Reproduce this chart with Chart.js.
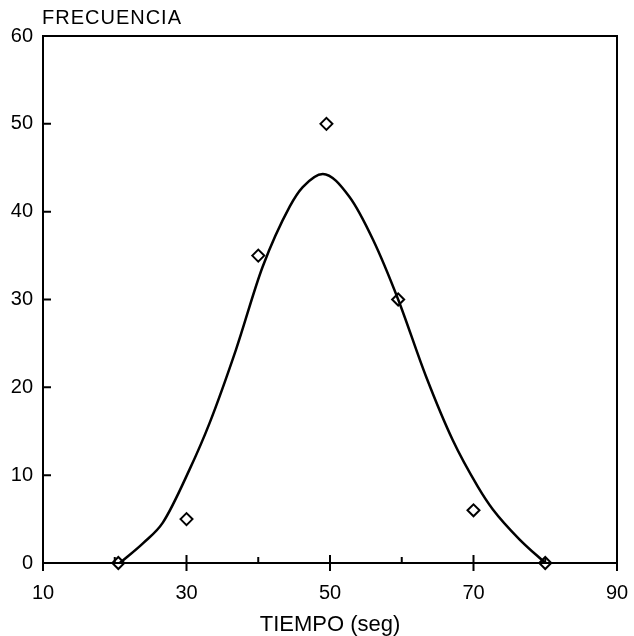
<!DOCTYPE html>
<html>
<head>
<meta charset="utf-8">
<script src="https://cdn.jsdelivr.net/npm/chart.js@4.4.1/dist/chart.umd.min.js"></script>
<style>
  html, body { margin: 0; padding: 0; background: #fff; }
  #wrap { width: 634px; height: 636px; position: relative; }
</style>
</head>
<body>
<div id="wrap"><canvas id="c" width="634" height="636"></canvas></div>
<script>
// Observed frequencies per time class
const tiempo = [20.5, 30, 40, 49.5, 59.5, 70, 80];
const frecuencia = [0, 5, 35, 50, 30, 6, 0];

// Fitted curve, sampled along its trace
const curvaX = [20.7, 24.0, 26.7, 30.4, 33.2, 36.9, 40.6, 44.4, 46.2, 49.0, 52.7, 56.0, 59.5, 63.4, 67.1, 70.6, 72.7, 76.4, 80.0];
const curvaY = [0, 2.3, 4.6, 10.6, 15.9, 24.3, 33.7, 40.6, 42.8, 44.3, 41.7, 36.8, 30.0, 21.2, 14.0, 8.7, 6.1, 2.7, 0];

// Axis ticks
const xLabelTicks = [10, 30, 50, 70, 90];
const xMinorTicks = [20, 40, 60, 80];
const yTicks = [10, 20, 30, 40, 50];

const FONT = "'Liberation Sans', Arial, Helvetica, sans-serif";

// Frame, inward tick marks and the vertical-axis caption
const framePlugin = {
  id: 'frame',
  afterDatasetsDraw(chart) {
    const { ctx, chartArea: a, scales: { x, y } } = chart;
    ctx.save();
    ctx.strokeStyle = '#000';
    ctx.lineWidth = 2;
    ctx.strokeRect(a.left, a.top, a.right - a.left, a.bottom - a.top);
    ctx.beginPath();
    xLabelTicks.forEach(v => {
      const px = x.getPixelForValue(v);
      ctx.moveTo(px, a.bottom - 8);
      ctx.lineTo(px, a.bottom + 8);
    });
    xMinorTicks.forEach(v => {
      const px = x.getPixelForValue(v);
      ctx.moveTo(px, a.bottom - 6);
      ctx.lineTo(px, a.bottom);
    });
    yTicks.forEach(v => {
      const py = y.getPixelForValue(v);
      ctx.moveTo(a.left, py);
      ctx.lineTo(a.left + 8, py);
    });
    ctx.stroke();

    ctx.fillStyle = '#000';
    ctx.font = '20px ' + FONT;
    ctx.textBaseline = 'middle';
    ctx.textAlign = 'left';
    if ('letterSpacing' in ctx) ctx.letterSpacing = '1px';
    ctx.fillText('FRECUENCIA', a.left - 1, 18);
    ctx.restore();
  }
};

new Chart(document.getElementById('c'), {
  type: 'scatter',
  data: {
    datasets: [
      {
        label: 'Curva',
        data: curvaX.map((v, i) => ({ x: v, y: curvaY[i] })),
        showLine: true,
        borderColor: '#000',
        borderWidth: 2.5,
        pointRadius: 0,
        cubicInterpolationMode: 'monotone',
        fill: false
      },
      {
        label: 'Frecuencia',
        data: tiempo.map((v, i) => ({ x: v, y: frecuencia[i] })),
        pointStyle: 'rectRot',
        pointRadius: 6,
        pointBorderWidth: 2,
        borderColor: '#000',
        backgroundColor: 'rgba(255,255,255,0)',
        clip: false
      }
    ]
  },
  options: {
    responsive: false,
    animation: false,
    devicePixelRatio: 1,
    layout: { padding: { top: 36, right: 17, left: 0, bottom: 0 } },
    plugins: {
      legend: { display: false },
      tooltip: { enabled: false }
    },
    scales: {
      x: {
        type: 'linear',
        min: 10,
        max: 90,
        afterFit: s => { s.height = 73; s.paddingLeft = 0; s.paddingRight = 0; },
        border: { display: false },
        grid: { display: false, drawTicks: false },
        ticks: {
          stepSize: 10,
          autoSkip: false,
          maxRotation: 0,
          padding: 18,
          color: '#000',
          font: { family: FONT, size: 20 },
          callback: v => (xLabelTicks.includes(v) ? String(v) : '')
        },
        title: {
          display: true,
          text: 'TIEMPO (seg)',
          color: '#000',
          font: { family: FONT, size: 22 },
          padding: { top: 0, bottom: -2 }
        }
      },
      y: {
        min: 0,
        max: 60,
        afterFit: s => { s.width = 43; },
        border: { display: false },
        grid: { display: false, drawTicks: false },
        ticks: {
          stepSize: 10,
          padding: 10,
          color: '#000',
          font: { family: FONT, size: 20 }
        }
      }
    }
  },
  plugins: [framePlugin]
});
</script>
</body>
</html>
